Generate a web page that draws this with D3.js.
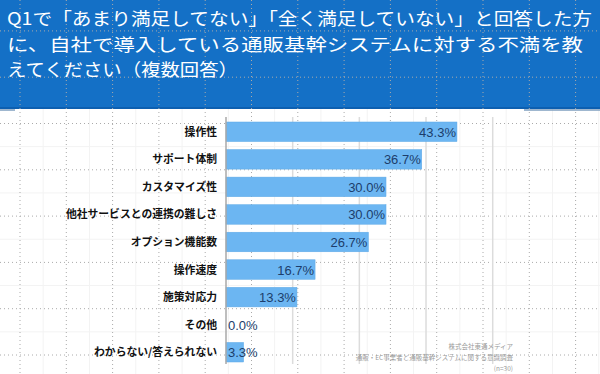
<!DOCTYPE html>
<head>
  <meta charset="utf-8">
  <script src="https://cdn.jsdelivr.net/npm/d3@7"></script>
  <style>
    body { margin:0; background:#fff; }
    text { font-family: "Noto Sans CJK JP", "Noto Sans", sans-serif; }
  </style>
</head>
<body>
  <script>
    // data
    const titleLines = [
      "Q1で「あまり満足してない」「全く満足していない」と回答した方",
      "に、自社で導入している通販基幹システムに対する不満を教",
      "えてください（複数回答）"
    ];
    const categories = ["操作性", "サポート体制", "カスタマイズ性", "他社サービスとの連携の難しさ",
      "オプション機能数", "操作速度", "施策対応力", "その他", "わからない/答えられない"];
    const values = [43.3, 36.7, 30.0, 30.0, 26.7, 16.7, 13.3, 0.0, 3.3];
    const gridTicks = [12.5, 25, 37.5, 50];
    const notes = ["株式会社東通メディア", "通販・EC事業者と通販基幹システムに関する意識調査", "(n=30)"];

    const width = 600, height = 374;

    const svg = d3.select("body").append("svg")
      .attr("width", width)
      .attr("height", height);

    // faint background sheet grid
    const step = 46.3;
    const gx = d3.range(20, width, step), gy = d3.range(123.5 - 2 * step, height, step);
    const sub = svg.append("g");
    sub.selectAll(".sx").data(gx).enter().append("line")
      .attr("x1", d => d + step / 2).attr("x2", d => d + step / 2)
      .attr("y1", 0).attr("y2", height)
      .attr("stroke", "#f3f3f3");
    sub.selectAll(".sy").data(gy).enter().append("line")
      .attr("y1", d => d + step / 2).attr("y2", d => d + step / 2)
      .attr("x1", 0).attr("x2", width)
      .attr("stroke", "#f3f3f3");

    // header
    svg.append("rect").attr("x", 0).attr("y", 0).attr("width", width).attr("height", 109)
      .attr("fill", "#1470c6");
    svg.append("rect").attr("x", 0).attr("y", 107).attr("width", width).attr("height", 2)
      .attr("fill", "#0d5fb0");
    svg.append("line").attr("x1", 0).attr("x2", 15).attr("y1", 110).attr("y2", 110)
      .attr("stroke", "#7f9fbf").attr("stroke-width", 1.5);
    svg.append("line").attr("x1", 524).attr("x2", width).attr("y1", 110).attr("y2", 110)
      .attr("stroke", "#7f9fbf").attr("stroke-width", 1.5);

    const dots = svg.append("g");
    dots.selectAll(".vx").data(gx).enter().append("line")
      .attr("x1", d => d).attr("x2", d => d)
      .attr("y1", 0).attr("y2", height)
      .attr("stroke", "#aaa").attr("stroke-dasharray", "1,3");
    dots.selectAll(".hy").data(gy).enter().append("line")
      .attr("y1", d => d).attr("y2", d => d)
      .attr("x1", 0).attr("x2", width)
      .attr("stroke", "#aaa").attr("stroke-dasharray", "1,3");

    // title
    const lineEnds = [592, 583, 238];
    svg.append("g").selectAll("text").data(titleLines).enter().append("text")
      .attr("x", 7)
      .attr("y", (d, i) => 25 + i * 25.7)
      .attr("textLength", (d, i) => lineEnds[i] - 7)
      .attr("lengthAdjust", "spacingAndGlyphs")
      .attr("fill", "#fff")
      .style("font-size", "17.6px")
      .text(d => d);

    // scales
    const x = d3.scaleLinear().domain([0, 50]).range([226, 492.7]);
    const y = d3.scaleBand().domain(categories).range([118, 366])
      .paddingInner(0.29).paddingOuter(0.145);

    svg.append("g").selectAll("line").data(gridTicks).enter().append("line")
      .attr("x1", d => x(d)).attr("x2", d => x(d))
      .attr("y1", 117).attr("y2", 364)
      .attr("stroke", "#dcdcdc").attr("stroke-width", 1.5);

    // bars
    svg.append("g").selectAll("rect").data(values).enter().append("rect")
      .attr("x", x(0))
      .attr("y", (d, i) => y(categories[i]))
      .attr("width", d => x(d) - x(0))
      .attr("height", y.bandwidth())
      .attr("fill", "#6cb6f2")
      .attr("stroke", "#5ea9e6").attr("stroke-width", 0.5);

    // axis line
    svg.append("line").attr("x1", x(0)).attr("x2", x(0)).attr("y1", 117).attr("y2", 364)
      .attr("stroke", "#a8a8a8").attr("stroke-width", 1.5);

    // category labels
    svg.append("g").selectAll("text").data(categories).enter().append("text")
      .attr("x", 217)
      .attr("y", d => y(d) + y.bandwidth() / 2 + 4)
      .attr("text-anchor", "end")
      .attr("fill", "#111")
      .style("font-size", "10.8px")
      .style("font-weight", "700")
      .text(d => d);

    // value labels
    svg.append("g").selectAll("text").data(values).enter().append("text")
      .attr("x", d => (x(d) - x(0) > 40 ? x(d) - 1 : x(0) + 2))
      .attr("y", (d, i) => y(categories[i]) + y.bandwidth() / 2 + 5)
      .attr("text-anchor", d => (x(d) - x(0) > 40 ? "end" : "start"))
      .attr("fill", "#1c3d6b")
      .style("font-family", "'Liberation Sans', Arial, sans-serif")
      .style("font-size", "13px")
      .text(d => d.toFixed(1) + "%");

    // source note
    svg.append("g").selectAll("text").data(notes).enter().append("text")
      .attr("x", 513)
      .attr("y", (d, i) => 349 + i * 11)
      .attr("text-anchor", "end")
      .attr("fill", "#9a9a9a")
      .style("font-size", "6.5px")
      .text(d => d);
  </script>
</body>
